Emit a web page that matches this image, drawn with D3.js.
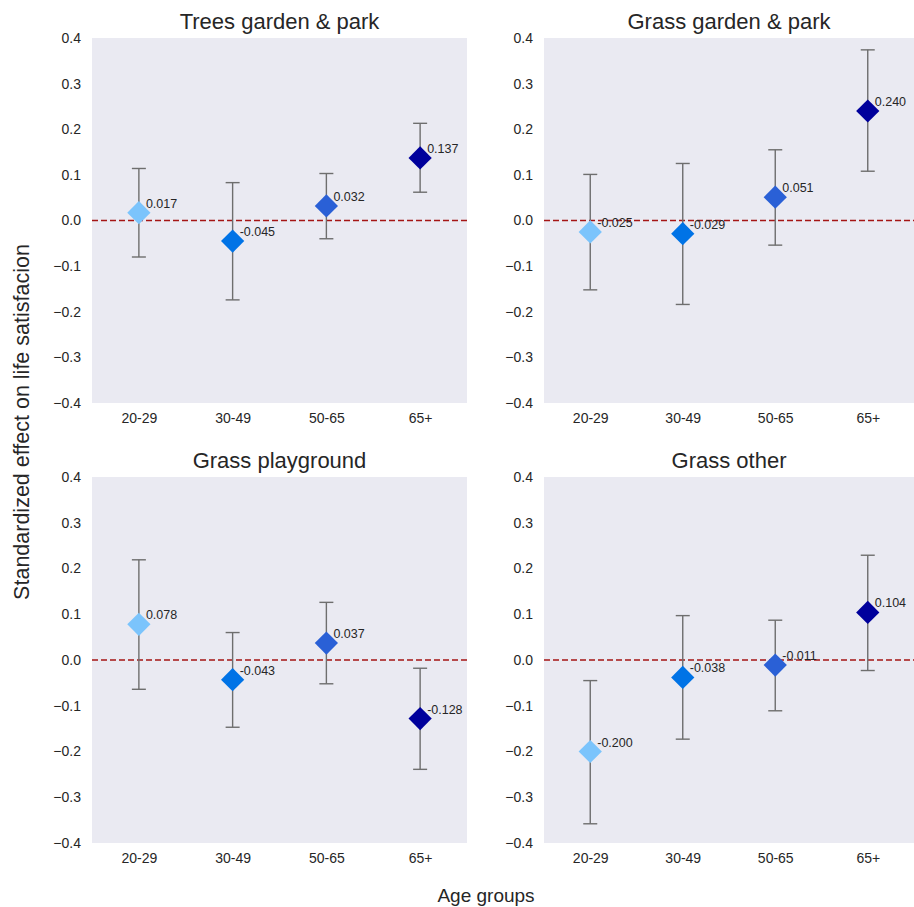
<!DOCTYPE html>
<html>
<head>
<meta charset="utf-8">
<script src="https://cdn.jsdelivr.net/npm/d3@7"></script>
<style>
  body { margin: 0; background: #fff; }
  svg { font-family: "Liberation Sans", Arial, sans-serif; }
</style>
</head>
<body>
<script>
const ageGroups = ["20-29", "30-49", "50-65", "65+"];
const panelTitles = ["Trees garden & park", "Grass garden & park", "Grass playground", "Grass other"];
const yTicks = [-0.4, -0.3, -0.2, -0.1, 0, 0.1, 0.2, 0.3, 0.4];
const groupColors = ["#7bc4fc", "#0073e6", "#2a60d6", "#00009c"];

// point estimates per panel
const treesGardenPark = [0.017, -0.045, 0.032, 0.137];
const grassGardenPark = [-0.025, -0.029, 0.051, 0.240];
const grassPlayground = [0.078, -0.043, 0.037, -0.128];
const grassOther = [-0.200, -0.038, -0.011, 0.104];

// confidence intervals
const treesLower = [-0.080, -0.174, -0.040, 0.062];
const treesUpper = [0.114, 0.083, 0.103, 0.213];
const grassGardenLower = [-0.152, -0.184, -0.054, 0.108];
const grassGardenUpper = [0.101, 0.125, 0.155, 0.374];
const playgroundLower = [-0.064, -0.147, -0.052, -0.239];
const playgroundUpper = [0.219, 0.060, 0.126, -0.018];
const otherLower = [-0.358, -0.173, -0.111, -0.023];
const otherUpper = [-0.045, 0.097, 0.087, 0.229];

const panels = [
  { title: panelTitles[0], est: treesGardenPark, lo: treesLower, hi: treesUpper, x0: 92, x1: 467, y0: 38, y1: 403 },
  { title: panelTitles[1], est: grassGardenPark, lo: grassGardenLower, hi: grassGardenUpper, x0: 544, x1: 914, y0: 38, y1: 403 },
  { title: panelTitles[2], est: grassPlayground, lo: playgroundLower, hi: playgroundUpper, x0: 92, x1: 467, y0: 477, y1: 843 },
  { title: panelTitles[3], est: grassOther, lo: otherLower, hi: otherUpper, x0: 544, x1: 914, y0: 477, y1: 843 }
];

const w = 914;
const h = 907;
const textColor = "#262626";

const svg = d3.select("body").append("svg").attr("width", w).attr("height", h);

panels.forEach((p) => {
  const xScale = d3.scalePoint().domain(ageGroups).range([p.x0, p.x1]).padding(0.5);
  const yScale = d3.scaleLinear().domain([-0.4, 0.4]).range([p.y1, p.y0]);

  const g = svg.append("g");

  g.append("rect")
    .attr("x", p.x0)
    .attr("y", p.y0)
    .attr("width", p.x1 - p.x0)
    .attr("height", p.y1 - p.y0)
    .attr("fill", "#eaeaf2");

  const yAxis = d3.axisLeft(yScale).tickValues(yTicks).tickFormat(d3.format(".1f")).tickSize(0).tickPadding(11);
  const xAxis = d3.axisBottom(xScale).tickSize(0).tickPadding(10);

  g.append("g")
    .attr("transform", `translate(${p.x0}, 0)`)
    .call(yAxis)
    .call((a) => a.select(".domain").remove())
    .selectAll("text")
    .attr("fill", textColor)
    .style("font-size", "14px");

  g.append("g")
    .attr("transform", `translate(0, ${p.y1})`)
    .call(xAxis)
    .call((a) => a.select(".domain").remove())
    .selectAll("text")
    .attr("fill", textColor)
    .style("font-size", "14px");

  g.append("text")
    .attr("x", (p.x0 + p.x1) / 2)
    .attr("y", p.y0 - 9)
    .attr("text-anchor", "middle")
    .attr("fill", textColor)
    .style("font-size", "22px")
    .text(p.title);

  g.append("line")
    .attr("x1", p.x0)
    .attr("x2", p.x1)
    .attr("y1", yScale(0))
    .attr("y2", yScale(0))
    .attr("stroke", "#a51515")
    .attr("stroke-width", 1.5)
    .attr("stroke-dasharray", "6,3");

  const rows = ageGroups.map((a, i) => ({ group: a, est: p.est[i], lo: p.lo[i], hi: p.hi[i], color: groupColors[i] }));

  const bars = g.selectAll(".err").data(rows).enter().append("g").attr("class", "err")
    .attr("stroke", "#6e6e6e").attr("stroke-width", 1.4);
  bars.append("line")
    .attr("x1", (d) => xScale(d.group))
    .attr("x2", (d) => xScale(d.group))
    .attr("y1", (d) => yScale(d.lo))
    .attr("y2", (d) => yScale(d.hi));
  bars.append("line")
    .attr("x1", (d) => xScale(d.group) - 7)
    .attr("x2", (d) => xScale(d.group) + 7)
    .attr("y1", (d) => yScale(d.lo))
    .attr("y2", (d) => yScale(d.lo));
  bars.append("line")
    .attr("x1", (d) => xScale(d.group) - 7)
    .attr("x2", (d) => xScale(d.group) + 7)
    .attr("y1", (d) => yScale(d.hi))
    .attr("y2", (d) => yScale(d.hi));

  g.selectAll(".pt").data(rows).enter().append("path")
    .attr("class", "pt")
    .attr("d", d3.symbol(d3.symbolSquare, 270))
    .attr("transform", (d) => `translate(${xScale(d.group)}, ${yScale(d.est)}) rotate(45)`)
    .attr("fill", (d) => d.color);

  g.selectAll(".lbl").data(rows).enter().append("text")
    .attr("class", "lbl")
    .attr("x", (d) => xScale(d.group) + 7)
    .attr("y", (d) => yScale(d.est) - 5)
    .attr("fill", textColor)
    .style("font-size", "12.5px")
    .text((d) => d.est.toFixed(3));
});

svg.append("text")
  .attr("transform", "rotate(-90)")
  .attr("x", -422)
  .attr("y", 29)
  .attr("text-anchor", "middle")
  .attr("fill", textColor)
  .style("font-size", "21.5px")
  .text("Standardized effect on life satisfacion");

svg.append("text")
  .attr("x", 486)
  .attr("y", 902)
  .attr("text-anchor", "middle")
  .attr("fill", textColor)
  .style("font-size", "19px")
  .text("Age groups");
</script>
</body>
</html>
